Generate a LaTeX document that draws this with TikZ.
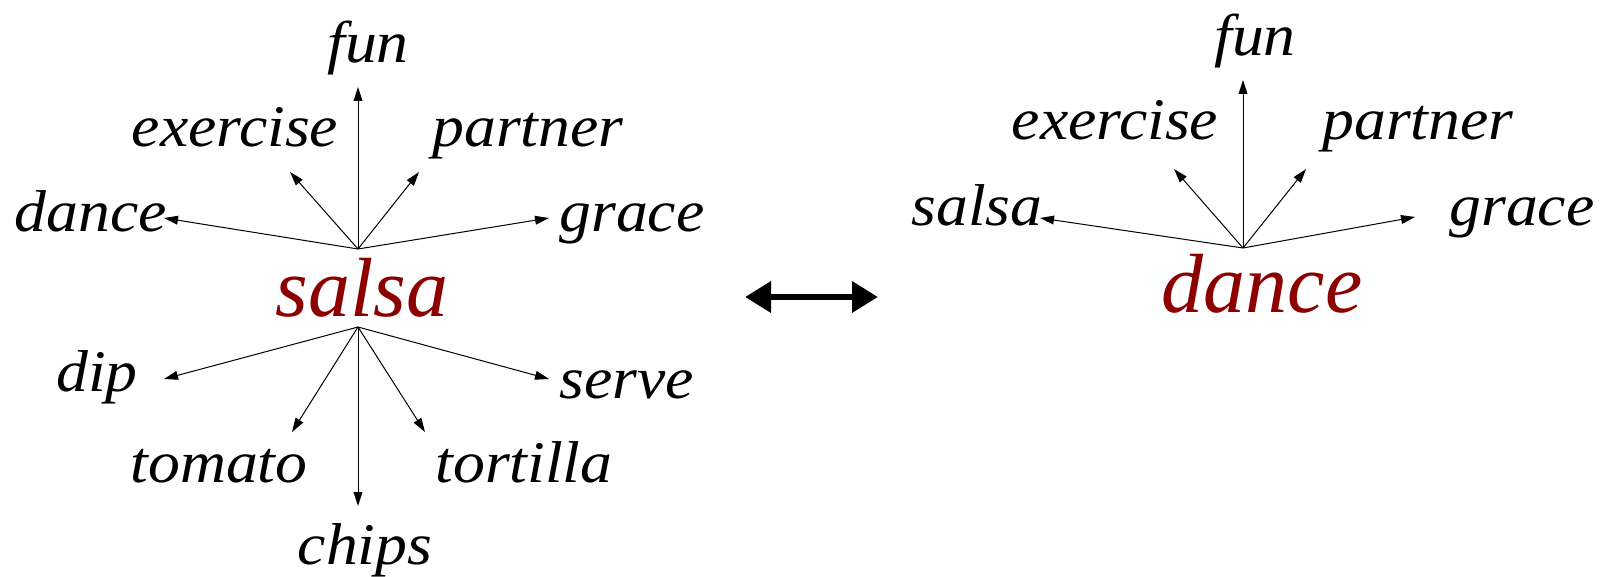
\documentclass[tikz,border=0pt]{standalone}
\usepackage{fontspec}
\setmainfont{Liberation Serif}
\newfontfamily\wfont{Liberation Serif}[FakeStretch=1.08]
\usetikzlibrary{arrows.meta}
\definecolor{wordred}{RGB}{140,0,0}
\begin{document}
\begin{tikzpicture}[x=0.5pt,y=-0.5pt,
  word/.style={inner sep=0pt,anchor=base,font=\wfont\fontsize{29.5}{34}\selectfont\itshape},
  hubword/.style={inner sep=0pt,anchor=base,text=wordred,font=\fontsize{42}{48}\selectfont\itshape},
  link/.style={line width=0.5pt,-{Triangle[length=7pt,width=4.4pt]}},
  swap/.style={line width=3.3pt,{Triangle[length=13pt,width=15pt]}-{Triangle[length=13pt,width=15pt]}}]
\useasboundingbox (0,0) rectangle (1604,577);
% ---------- left star: salsa ----------
\node[hubword] (salsaC) at (362,316) {salsa};
\coordinate (hubT) at (358,249);
\coordinate (hubB) at (358,327);
\node[word] (funL) at (368,63) {fun};
\node[word] (exerciseL) at (235,147) {exercise};
\node[word] (partnerL) at (528,147) {partner};
\node[word] (danceL) at (91,232) {dance};
\node[word] (graceL) at (632,232) {grace};
\node[word] (dip) at (97,391) {dip};
\node[word] (serve) at (627,398) {serve};
\node[word] (tomato) at (219,482) {tomato};
\node[word] (tortilla) at (524,482) {tortilla};
\node[word] (chips) at (365,564) {chips};
\coordinate (tFunL) at (358,87);
\coordinate (tExL) at (290,172);
\coordinate (tPaL) at (419,172);
\coordinate (tDaL) at (164,218);
\coordinate (tGrL) at (549,218);
\coordinate (tDip) at (164,379);
\coordinate (tServe) at (549,379);
\coordinate (tTom) at (292,432);
\coordinate (tTor) at (425,432);
\coordinate (tChips) at (358,506);
\foreach \t in {tFunL,tExL,tPaL,tDaL,tGrL} \draw[link] (hubT) -- (\t);
\foreach \t in {tDip,tServe,tTom,tTor,tChips} \draw[link] (hubB) -- (\t);
% ---------- double arrow ----------
\coordinate (swapL) at (745,297);
\coordinate (swapR) at (878,297);
\draw[swap] (swapL) -- (swapR);
% ---------- right star: dance ----------
\node[hubword] (danceC) at (1262,312) {dance};
\coordinate (hubR) at (1243,248);
\node[word] (funR) at (1255,56) {fun};
\node[word] (exerciseR) at (1115,140) {exercise};
\node[word] (partnerR) at (1418,140) {partner};
\node[word] (salsaR) at (977,226) {salsa};
\node[word] (graceR) at (1522,226) {grace};
\coordinate (tFunR) at (1243,80);
\coordinate (tExR) at (1174,169);
\coordinate (tPaR) at (1306,169);
\coordinate (tSaR) at (1040,218);
\coordinate (tGrR) at (1415,217);
\foreach \t in {tFunR,tExR,tPaR,tSaR,tGrR} \draw[link] (hubR) -- (\t);
\end{tikzpicture}
\end{document}
